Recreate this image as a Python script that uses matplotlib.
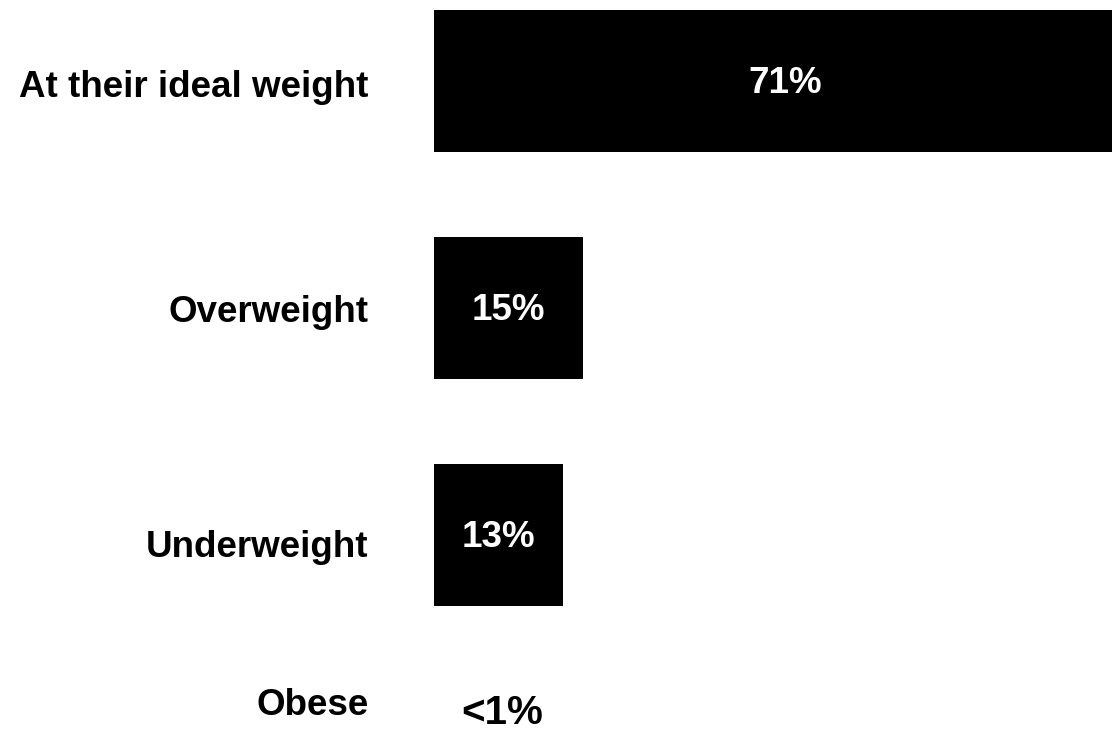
import matplotlib.pyplot as plt

# chart data
categories = ["At their ideal weight", "Overweight", "Underweight", "Obese"]
shares = [71, 15, 13, 0]
share_labels = ["71%", "15%", "13%", "<1%"]

plt.rcParams['font.family'] = ['Liberation Sans', 'DejaVu Sans']

fig = plt.figure(figsize=(11.12, 7.31), dpi=100)
ax = fig.add_axes([434 / 1112, 0, 1 - 434 / 1112, 1])

rows = list(range(len(categories)))
bars = ax.barh(rows, shares, height=0.626, color='black')

ax.set_xlim(0, 678 / 9.9)
ax.set_ylim(2.863, -0.357)
ax.set_xticks([])
ax.set_yticks([])
for side in ax.spines.values():
    side.set_visible(False)

# category labels, nudged a little (points) to sit like the original
label_shift = [(-47, -1.5), (-47, 0), (-47, -6), (-47, 43.5)]
for row, name, shift in zip(rows, categories, label_shift):
    ax.annotate(name, xy=(0, row), xycoords=('axes fraction', 'data'),
                xytext=shift, textcoords='offset points', ha='right',
                va='center_baseline', fontsize=26.5, fontweight='bold',
                annotation_clip=False)

# values inside the bars
for bar, text in zip(bars[:3], share_labels[:3]):
    ax.annotate(text, xy=(bar.get_width() / 2, bar.get_y() + bar.get_height() / 2),
                xytext=(0, -1.5), textcoords='offset points',
                ha='center', va='center', color='white', fontsize=26.5,
                fontweight='bold', annotation_clip=False)

# obese value has no bar, just the text
ax.annotate(share_labels[3], xy=(shares[3], rows[3]), xycoords='data',
            xytext=(19.5, 35), textcoords='offset points', ha='left',
            va='center', fontsize=29, fontweight='bold',
            annotation_clip=False)

fig.savefig("out.png", dpi=100)
